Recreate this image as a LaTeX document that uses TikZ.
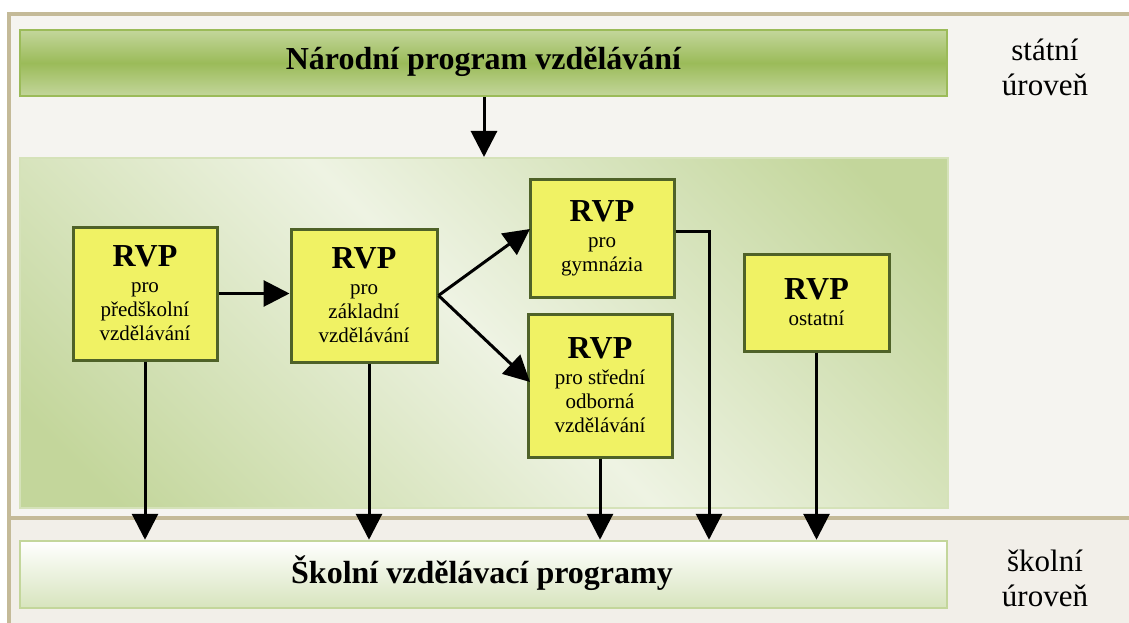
\documentclass[tikz,border=0pt]{standalone}
\usepackage{fontspec}
\setmainfont{Liberation Serif}
\usetikzlibrary{arrows.meta}
\definecolor{frameln}{HTML}{C4BA98}
\definecolor{bgtop}{HTML}{F5F4F0}
\definecolor{bgbot}{HTML}{F2EFE9}
\definecolor{gdark}{HTML}{9BBB59}
\definecolor{glight}{HTML}{C3D69B}
\definecolor{gpale}{HTML}{EEF3E3}
\definecolor{gmid}{HTML}{D7E4BD}
\definecolor{boxfill}{HTML}{F0F264}
\definecolor{boxline}{HTML}{4F6228}
\pgfdeclareverticalshading{panelshade}{100bp}{color(0bp)=(glight); color(20bp)=(glight); color(50bp)=(gpale); color(80bp)=(glight); color(100bp)=(glight)}
\tikzset{
  rvpbox/.style={draw=boxline, line width=3pt, fill=boxfill, align=center, inner sep=0pt,
    font=\fontsize{21}{24}\selectfont},
  conn/.style={line width=3pt, -{Triangle[width=26pt,length=26pt]}},
  lvl/.style={align=center, font=\fontsize{31}{35}\selectfont},
  bigt/.style={font=\fontsize{32}{36}\selectfont\bfseries}
}
\newcommand\rvphead{{\fontsize{32}{32}\selectfont\bfseries RVP}\\[2pt]}
\begin{document}
\begin{tikzpicture}[x=1pt,y=-1pt]
\useasboundingbox (0,0) rectangle (1129,623);
\fill[white] (0,0) rectangle (1129,623);
% background frame
\fill[bgtop] (9,14) rectangle (1129,518);
\fill[bgbot] (9,518) rectangle (1129,623);
\draw[frameln, line width=3.5pt] (1129,14) -- (9,14) -- (9,623);
\draw[frameln, line width=4pt] (9,518) -- (1129,518);
% top bar
\node[draw=gdark, line width=2.5pt, top color=glight, bottom color=glight, middle color=gdark,
  minimum width=927pt, minimum height=66pt, inner sep=0pt] (npv) at (483.5,63) {};
\node[bigt, anchor=base] (npvt) at (483.5,70) {Národní program vzdělávání};
% middle panel
\node[draw=glight!70!white, line width=2pt, shading=panelshade, shading angle=-45,
  minimum width=928pt, minimum height=350pt, inner sep=0pt] (panel) at (484,333) {};
% bottom bar
\node[draw=glight, line width=2.5pt, top color=white, bottom color=gmid,
  minimum width=927pt, minimum height=67pt, inner sep=0pt] (svp) at (483.5,574.5) {};
\node[bigt, anchor=base] (svpt) at (482,583) {Školní vzdělávací programy};
% level labels
\node[lvl] (st) at (1045,67) {státní\\úroveň};
\node[lvl] (sk) at (1045,578) {školní\\úroveň};
% RVP boxes
\node[rvpbox, minimum width=144pt, minimum height=133pt] (b1) at (145,293.5)
  {\rvphead pro\\předškolní\\vzdělávání};
\node[rvpbox, minimum width=146pt, minimum height=133pt] (b2) at (364,295.5)
  {\rvphead pro\\základní\\vzdělávání};
\node[rvpbox, minimum width=144pt, minimum height=118pt] (b3) at (602,238)
  {\rvphead pro\\gymnázia};
\node[rvpbox, minimum width=144pt, minimum height=143pt] (b4) at (600,385.5)
  {\rvphead pro střední\\odborná\\vzdělávání};
\node[rvpbox, minimum width=145pt, minimum height=97pt] (b5) at (816.5,302.5)
  {\rvphead ostatní};
% connectors
\draw[conn] (npv.south -| 484,0) -- (panel.north -| 484,0);
\draw[conn] (b1.east) -- (b2.west |- b1.east);
\coordinate (split) at (b2.east);
\draw[conn] (split) -- (530,229);
\draw[conn] (split) -- (530,382);
\draw[conn] (b1.south) -- (b1.south |- svp.north);
\draw[conn] (b2.south -| 369,0) -- (369,0 |- svp.north);
\draw[conn] (b4.south) -- (b4.south |- svp.north);
\draw[conn] (b5.south) -- (b5.south |- svp.north);
\coordinate (bend) at (709,231);
\draw[conn] (b3.east |- bend) -- (bend) -- (bend |- svp.north);
\end{tikzpicture}
\end{document}
